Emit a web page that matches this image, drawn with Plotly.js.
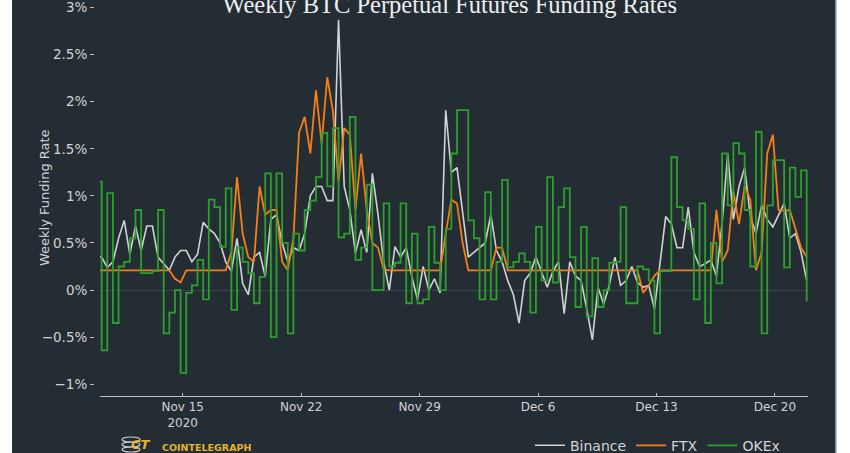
<!DOCTYPE html>
<html>
<head>
<meta charset="utf-8">
<script src="https://cdn.plot.ly/plotly-3.0.1.min.js"></script>
<style>html,body{margin:0;padding:0;background:#252d34;}#chart{width:850px;height:453px;}</style>
</head>
<body>
<div id="chart"></div>
<script>
// Weekly funding rate (%), 8-hour samples starting 2020-11-09 21:00 UTC
const seriesNames = ['Binance', 'FTX', 'OKEx'];

const binance = [
  0.35, 0.35, 0.24, 0.30, 0.55, 0.74, 0.38, 0.68, 0.42, 0.68,
  0.68, 0.35, 0.28, 0.21, 0.35, 0.42, 0.42, 0.30, 0.38, 0.72,
  0.65, 0.60, 0.50, 0.30, 0.20, 0.55, 0.07, -0.05, 0.35, 0.40,
  0.14, 0.75, 0.80, 0.50, 0.30, 0.45, 0.42, 0.60, 1.00, 1.10,
  1.10, 0.95, 0.95, 2.87, 1.10, 0.85, 0.39, 0.64, 0.40, 1.24,
  0.80, 0.30, 0.00, 0.46, 0.35, 0.45, 0.14, -0.10, 0.25, 0.00,
  0.12, -0.03, 1.91, 1.25, 1.30, 0.85, 0.35, 0.40, 0.45, 0.50,
  0.80, 0.42, 0.30, 0.10, -0.05, -0.35, 0.10, 0.18, 0.35, 0.20,
  0.03, 0.20, 0.30, -0.25, 0.30, 0.15, 0.10, -0.20, -0.53, 0.03,
  -0.15, 0.05, 0.35, 0.05, 0.10, 0.25, 0.08, 0.03, 0.05, -0.20,
  0.28, 0.78, 0.70, 0.45, 0.45, 0.88, 0.40, 0.25, 0.28, 0.32,
  0.15, 0.71, 1.45, 0.75, 1.10, 1.30, 0.78, 0.60, 0.90, 0.75,
  0.67, 0.80, 0.92, 0.55, 0.60, 0.40, 0.10
];

const ftx = [
  0.21, 0.21, 0.21, 0.21, 0.21, 0.21, 0.21, 0.21, 0.21, 0.21,
  0.21, 0.21, 0.21, 0.21, 0.12, 0.08, 0.21, 0.21, 0.21, 0.21,
  0.21, 0.21, 0.21, 0.21, 0.40, 1.20, 0.60, 0.35, 0.30, 1.10,
  0.80, 0.85, 0.85, 0.30, 0.21, 0.55, 1.67, 1.84, 1.45, 2.12,
  1.56, 2.26, 1.90, 1.15, 1.72, 1.65, 0.85, 1.45, 0.85, 0.50,
  0.45, 0.22, 0.21, 0.21, 0.21, 0.21, 0.21, 0.21, 0.21, 0.21,
  0.21, 0.21, 0.60, 0.96, 0.92, 0.50, 0.21, 0.21, 0.21, 0.21,
  0.21, 0.45, 0.45, 0.21, 0.21, 0.21, 0.21, 0.21, 0.21, 0.21,
  0.21, 0.21, 0.21, 0.21, 0.21, 0.21, 0.21, 0.21, 0.21, 0.21,
  0.21, 0.21, 0.21, 0.21, 0.21, 0.21, 0.21, -0.03, 0.05, 0.15,
  0.21, 0.21, 0.21, 0.21, 0.21, 0.21, 0.21, 0.21, 0.21, 0.21,
  0.85, 0.30, 0.42, 1.05, 0.70, 1.10, 0.96, 0.21, 0.40, 1.45,
  1.65, 0.85, 0.84, 0.85, 0.65, 0.45, 0.35
];

const okex = [
  1.15, -0.64, 1.03, -0.35, 0.25, 0.30, 0.55, 0.85, 0.18, 0.18,
  0.20, 0.85, -0.46, -0.24, 0.00, -0.88, -0.03, 0.05, 0.32, -0.10,
  0.96, 0.88, 0.46, 1.08, -0.21, 0.45, 0.30, 0.18, -0.14, 0.14,
  1.24, -0.50, 1.24, 0.50, -0.46, 0.60, 0.42, 0.85, 0.95, 1.20,
  1.67, 1.10, 1.72, 0.56, 0.60, 1.84, 0.32, 0.45, 1.12, 0.00,
  0.00, 0.92, 0.25, 0.29, 0.92, -0.14, 0.60, -0.14, -0.10, 0.67,
  0.29, 0.00, 0.65, 1.45, 1.91, 1.91, 0.74, 0.55, -0.10, 1.04,
  -0.10, 0.30, 1.17, 0.24, 0.30, 0.39, 0.30, -0.24, 0.67, 0.10,
  1.20, 0.08, 0.88, 1.08, 0.35, -0.18, 0.67, -0.28, 0.34, -0.18,
  0.00, 0.29, 0.30, 0.88, -0.14, -0.14, 0.25, 0.22, 0.10, -0.46,
  0.20, 0.20, 1.41, 0.88, 0.74, 0.65, -0.10, 0.92, -0.35, 0.50,
  0.07, 1.45, 0.90, 1.56, 1.45, 0.85, 0.25, 1.68, -0.46, 0.90,
  1.38, 1.38, 0.24, 1.30, 0.99, 1.27, -0.12
];

const START_MS = Date.UTC(2020, 10, 9, 21, 0);
const STEP_MS = 8 * 3600 * 1000;
const times = binance.map((_, k) =>
  new Date(START_MS + k * STEP_MS).toISOString().slice(0, 16).replace('T', ' '));

const BG = '#252d34';
const TXT = '#cfd3d6';

const traces = [
  {x: times, y: binance, name: seriesNames[0], type: 'scatter', mode: 'lines',
   line: {color: '#d2d2d2', width: 1.6}},
  {x: times, y: ftx, name: seriesNames[1], type: 'scatter', mode: 'lines',
   line: {color: '#f57f17', width: 1.8}},
  {x: times, y: okex, name: seriesNames[2], type: 'scatter', mode: 'lines',
   line: {color: '#2ca02c', width: 1.8, shape: 'hv'}}
];

const layout = {
  width: 850, height: 453,
  paper_bgcolor: BG, plot_bgcolor: BG,
  margin: {l: 94, r: 42, t: 0, b: 57, pad: 0, autoexpand: false},
  font: {family: 'DejaVu Sans', color: TXT},
  title: {
    text: 'Weekly BTC Perpetual Futures Funding Rates',
    font: {family: 'Liberation Serif', size: 24.5, color: '#eceff1'},
    xref: 'container', x: 0.529, xanchor: 'center',
    yref: 'container', y: 0.972, yanchor: 'bottom'
  },
  showlegend: true,
  legend: {
    orientation: 'h', x: 0.6106, xanchor: 'left', y: -0.1255, yanchor: 'middle',
    font: {family: 'DejaVu Sans', size: 14, color: '#d0d4d7'},
    bgcolor: 'rgba(0,0,0,0)'
  },
  xaxis: {
    type: 'date', domain: [0.0084, 1],
    range: ['2020-11-10 02:40', '2020-12-21 22:50'],
    showgrid: false, zeroline: false,
    showline: true, linecolor: '#b9bfc4', linewidth: 1,
    ticks: 'inside', ticklen: 3, tickcolor: '#b9bfc4',
    dtick: 604800000, tick0: '2020-11-15',
    ticklabeloverflow: 'allow',
    tickfont: {family: 'DejaVu Sans', size: 12, color: TXT}
  },
  yaxis: {
    anchor: 'free', position: 0,
    range: [-1.125, 3.08], dtick: 0.5, ticksuffix: '%',
    showgrid: false, showline: false,
    zeroline: true, zerolinecolor: '#3b454c', zerolinewidth: 1,
    ticks: 'outside', ticklen: 4, tickcolor: '#b9bfc4',
    ticklabeloverflow: 'allow',
    tickfont: {family: 'DejaVu Sans', size: 13.5, color: TXT}
  },
  annotations: [
    {text: 'Weekly Funding Rate', xref: 'paper', yref: 'paper', x: -0.070, y: 0.5,
     textangle: -90, showarrow: false, xanchor: 'center', yanchor: 'middle',
     font: {family: 'DejaVu Sans', size: 13, color: TXT}},
    {text: '<b>COINTELEGRAPH</b>', xref: 'paper', yref: 'paper', x: 0.0924, y: -0.1288,
     showarrow: false, xanchor: 'left', yanchor: 'middle',
     font: {family: 'DejaVu Sans', size: 9.5, color: '#e2b52b'}},
    {text: '<b><i>CT</i></b>', xref: 'paper', yref: 'paper', x: 0.0658, y: -0.122,
     showarrow: false, xanchor: 'center', yanchor: 'middle',
     font: {family: 'DejaVu Sans', size: 13, color: '#e2b52b'}}
  ],
  shapes: [
    {type: 'rect', xref: 'paper', yref: 'paper', x0: -0.3, x1: -0.1148, y0: -0.4, y1: 1.2,
     fillcolor: '#ffffff', line: {width: 0}, layer: 'above'},
    {type: 'rect', xref: 'paper', yref: 'paper', x0: 1.0392, x1: 1.3, y0: -0.4, y1: 1.2,
     fillcolor: '#ffffff', line: {width: 0}, layer: 'above'},
    {type: 'line', xref: 'paper', yref: 'paper', x0: 1.0392, x1: 1.0392, y0: -0.4, y1: 1.2,
     line: {color: '#a8aeb3', width: 1.5}, layer: 'above'},
    {type: 'circle', xref: 'paper', yref: 'paper', x0: 0.0392, x1: 0.0644, y0: -0.1162, y1: -0.1035,
     line: {color: '#c9ccd0', width: 1.2}, layer: 'above'},
    {type: 'circle', xref: 'paper', yref: 'paper', x0: 0.0392, x1: 0.0644, y0: -0.1288, y1: -0.1162,
     line: {color: '#c9ccd0', width: 1.2}, layer: 'above'},
    {type: 'circle', xref: 'paper', yref: 'paper', x0: 0.0392, x1: 0.0644, y0: -0.1414, y1: -0.1288,
     line: {color: '#c9ccd0', width: 1.2}, layer: 'above'}
  ]
};

Plotly.newPlot('chart', traces, layout, {displayModeBar: false, staticPlot: true});
</script>
</body>
</html>
